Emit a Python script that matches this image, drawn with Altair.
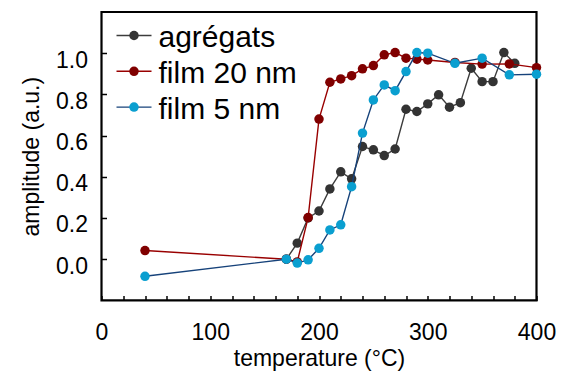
import altair as alt
import pandas as pd

# ---- data ----
temps_agg = [170, 180, 190, 200, 210, 220, 230, 240, 250, 260, 270, 280, 290,
             300, 310, 320, 330, 340, 350, 360, 370, 380]
amp_agg = [0.0, 0.078, 0.20, 0.234, 0.341, 0.424, 0.39, 0.547, 0.531, 0.503,
           0.535, 0.728, 0.717, 0.754, 0.798, 0.738, 0.76, 0.927, 0.862, 0.862,
           1.003, 0.951]

temps_20 = [40, 170, 180, 190, 200, 210, 220, 230, 240, 250, 260, 270, 280, 290,
            300, 325, 350, 375, 400]
amp_20 = [0.042, 0.0, -0.013, 0.202, 0.68, 0.859, 0.875, 0.891, 0.924, 0.94,
          0.992, 1.003, 0.976, 0.971, 0.967, 0.955, 0.947, 0.948, 0.93]

temps_5 = [40, 170, 180, 190, 200, 210, 220, 230, 240, 250, 260, 270, 280, 290,
           300, 325, 350, 375, 400]
amp_5 = [-0.083, 0.0, -0.019, -0.003, 0.053, 0.142, 0.167, 0.352, 0.612, 0.773,
         0.846, 0.818, 0.911, 1.003, 1.0, 0.951, 0.976, 0.895, 0.898]

series_names = ["agrégats", "film 20 nm", "film 5 nm"]
line_colors = ["#3c3c3c", "#990000", "#16427a"]
point_colors = ["#333333", "#800000", "#0a9fd0"]

x_ticks = list(range(0, 401, 20))
y_ticks = [0.0, 0.2, 0.4, 0.6, 0.8, 1.0]

FONT = "Liberation Sans"
W, H = 435, 288.4

x_enc = alt.X(
    "t:Q",
    scale=alt.Scale(domain=[0, 400], nice=False, zero=False),
    axis=alt.Axis(
        values=x_ticks,
        labelExpr="datum.value % 100 == 0 ? datum.label : ''",
        tickSize=5, offset=-5, domain=False, grid=False,
        tickColor="black", tickWidth=1.5,
        labelFontSize=23, labelFont=FONT, labelColor="black",
        labelPadding=21, labelOverlap=False, labelFlush=False,
        title="temperature (°C)", titleFontSize=23, titleFont=FONT,
        titleFontWeight="normal", titleColor="black", titlePadding=3,
    ),
)
y_enc = alt.Y(
    "a:Q",
    scale=alt.Scale(domain=[-0.2, 1.2], nice=False, zero=False),
    axis=alt.Axis(
        values=y_ticks, format=".1f",
        tickSize=5, offset=-5, domain=False, grid=False,
        tickColor="black", tickWidth=1.5,
        labelFontSize=23, labelFont=FONT, labelColor="black",
        labelPadding=14, labelOffset=7, labelOverlap=False, labelFlush=False,
        title="amplitude (a.u.)", titleFontSize=23, titleFont=FONT,
        titleFontWeight="normal", titleColor="black", titlePadding=12,
    ),
)

all_t = [temps_agg, temps_20, temps_5]
all_a = [amp_agg, amp_20, amp_5]

layers = []
for i in range(3):
    df = pd.DataFrame({"t": all_t[i], "a": all_a[i]})
    base = alt.Chart(df).encode(x=x_enc, y=y_enc)
    layers.append(base.mark_line(color=line_colors[i], strokeWidth=1.4))
    layers.append(base.mark_circle(color=point_colors[i], size=90, opacity=1))

# legend drawn inside the plot, top-left
for i in range(3):
    ly = 23.5 + 35.8 * i
    ldf = pd.DataFrame({"label": [series_names[i]]})
    lb = alt.Chart(ldf)
    layers.append(lb.mark_rule(color=line_colors[i], strokeWidth=1.4).encode(
        x=alt.value(15), x2=alt.value(50), y=alt.value(ly)))
    layers.append(lb.mark_circle(color=point_colors[i], size=90, opacity=1).encode(
        x=alt.value(32.5), y=alt.value(ly)))
    layers.append(lb.mark_text(align="left", baseline="middle", fontSize=30,
                               font=FONT, color="black", dy=3).encode(
        text="label:N", x=alt.value(57), y=alt.value(ly)))

chart = alt.layer(*layers).properties(
    width=W, height=H,
    autosize=alt.AutoSizeParams(type="none"),
    padding={"left": 93.5, "top": 4, "right": 20, "bottom": 85},
).configure(background="white").configure_view(stroke="black", strokeWidth=2.2)

chart.save("out.html", embed_options={"renderer": "svg", "actions": False})
